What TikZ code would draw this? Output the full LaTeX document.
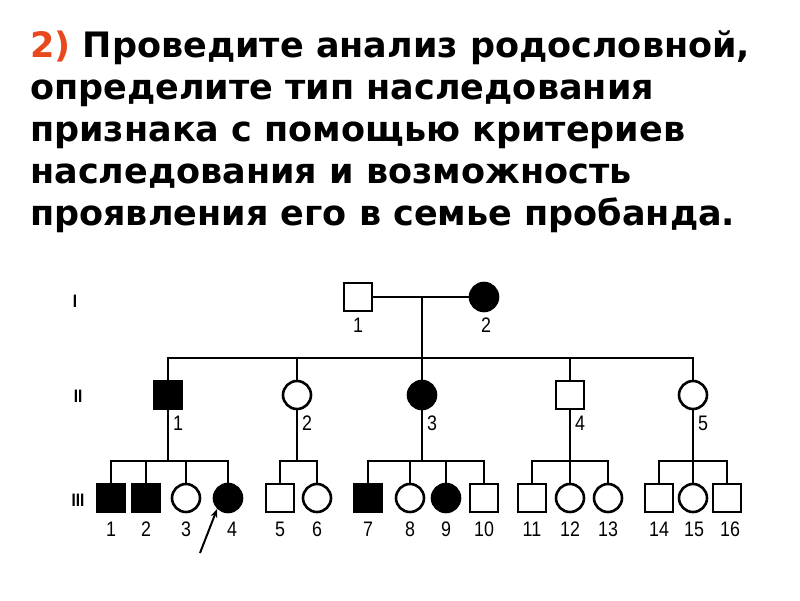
\documentclass[tikz,border=0pt]{standalone}
\usepackage{fontspec}
\setmainfont{DejaVu Sans}
\newfontfamily\pedfont[FakeStretch=0.85]{Liberation Sans}
\usetikzlibrary{arrows.meta}
\definecolor{numred}{RGB}{232,72,28}

\begin{document}
\begin{tikzpicture}[
  x=1pt, y=-1pt,
  title/.style={anchor=base west, inner sep=0pt, font=\fontsize{35}{42}\selectfont\bfseries},
  sq/.style={draw, line width=2.6pt, minimum size=28pt, inner sep=0pt},
  ci/.style={draw, circle, line width=2.6pt, minimum size=28pt, inner sep=0pt},
  aff/.style={fill=black},
  lbl/.style={font=\pedfont\fontsize{21}{21}\selectfont, inner sep=0pt},
  gen/.style={font=\pedfont\bfseries\fontsize{18}{18}\selectfont, inner sep=0pt},
  line/.style={line width=2.5pt}
]
\useasboundingbox[fill=white] (0,0) rectangle (800,600);

% task text
\node[title] (t1) at (30,57) {\textcolor{numred}{2)} Проведите анализ родословной,};
\node[title] (t2) at (30,99) {определите тип наследования};
\node[title] (t3) at (30,141) {признака с помощью критериев};
\node[title] (t4) at (30,183) {наследования и возможность};
\node[title] (t5) at (30,225) {проявления его в семье пробанда.};

% generations
\node[gen] (gI) at (75,301) {I};
\node[gen] (gII) at (78,396) {II};
\node[gen] (gIII) at (78,500) {III};

% generation I
\node[sq] (I1) at (358,297) {};
\node[ci, aff] (I2) at (484,297) {};
\node[lbl] (nI1) at (358,325) {1};
\node[lbl] (nI2) at (486,325) {2};

% generation II
\node[sq, aff] (II1) at (168,395) {};
\node[ci] (II2) at (297,395) {};
\node[ci, aff] (II3) at (422,395) {};
\node[sq] (II4) at (570,395) {};
\node[ci] (II5) at (693,395) {};
\foreach \n/\x in {1/178,2/307,3/432,4/580,5/703}
  \node[lbl] (nII\n) at (\x,423) {\n};

% generation III
\node[sq, aff] (III1) at (111,498) {};
\node[sq, aff] (III2) at (146,498) {};
\node[ci] (III3) at (186,498) {};
\node[ci, aff] (III4) at (228,498) {};
\node[sq] (III5) at (280,498) {};
\node[ci] (III6) at (317,498) {};
\node[sq, aff] (III7) at (368,498) {};
\node[ci] (III8) at (410,498) {};
\node[ci, aff] (III9) at (446,498) {};
\node[sq] (III10) at (484,498) {};
\node[sq] (III11) at (532,498) {};
\node[ci] (III12) at (570,498) {};
\node[ci] (III13) at (608,498) {};
\node[sq] (III14) at (659,498) {};
\node[ci] (III15) at (693,498) {};
\node[sq] (III16) at (727,498) {};
\foreach \n/\x in {1/111,2/146,3/186,4/232,5/280,6/317,7/368,8/410,9/446,10/484,11/532,12/570,13/608,14/659,15/694,16/730}
  \node[lbl] (nIII\n) at (\x,529) {\n};

% marriage and sibship lines
\coordinate (m0) at (422,297);
\coordinate (s0) at (422,358);
\coordinate (s1) at (168,461);
\coordinate (s2) at (297,461);
\coordinate (s3) at (422,461);
\coordinate (s4) at (570,461);
\coordinate (s5) at (693,461);

\draw[line] (I1) -- (I2);
\draw[line] (m0) -- (s0);
\draw[line] (II1.north) |- (s0) -| (II5.north);
\draw[line] (II2.north) |- (s0);
\draw[line] (II3.north) -- (s0);
\draw[line] (II4.north) |- (s0);

\draw[line] (II1.south) -- (s1);
\draw[line] (III1.north) |- (s1) -| (III4.north);
\draw[line] (III2.north) |- (s1);
\draw[line] (III3.north) |- (s1);

\draw[line] (II2.south) -- (s2);
\draw[line] (III5.north) |- (s2) -| (III6.north);

\draw[line] (II3.south) -- (s3);
\draw[line] (III7.north) |- (s3) -| (III10.north);
\draw[line] (III8.north) |- (s3);
\draw[line] (III9.north) |- (s3);

\draw[line] (II4.south) -- (s4);
\draw[line] (III11.north) |- (s4) -| (III13.north);
\draw[line] (III12.north) -- (s4);

\draw[line] (II5.south) -- (s5);
\draw[line] (III14.north) |- (s5) -| (III16.north);
\draw[line] (III15.north) -- (s5);

% proband
\coordinate (pa) at (200,553);
\draw[line width=2pt, -{Stealth[length=9pt, width=7pt]}] (pa) -- (III4.south west);
\end{tikzpicture}
\end{document}
